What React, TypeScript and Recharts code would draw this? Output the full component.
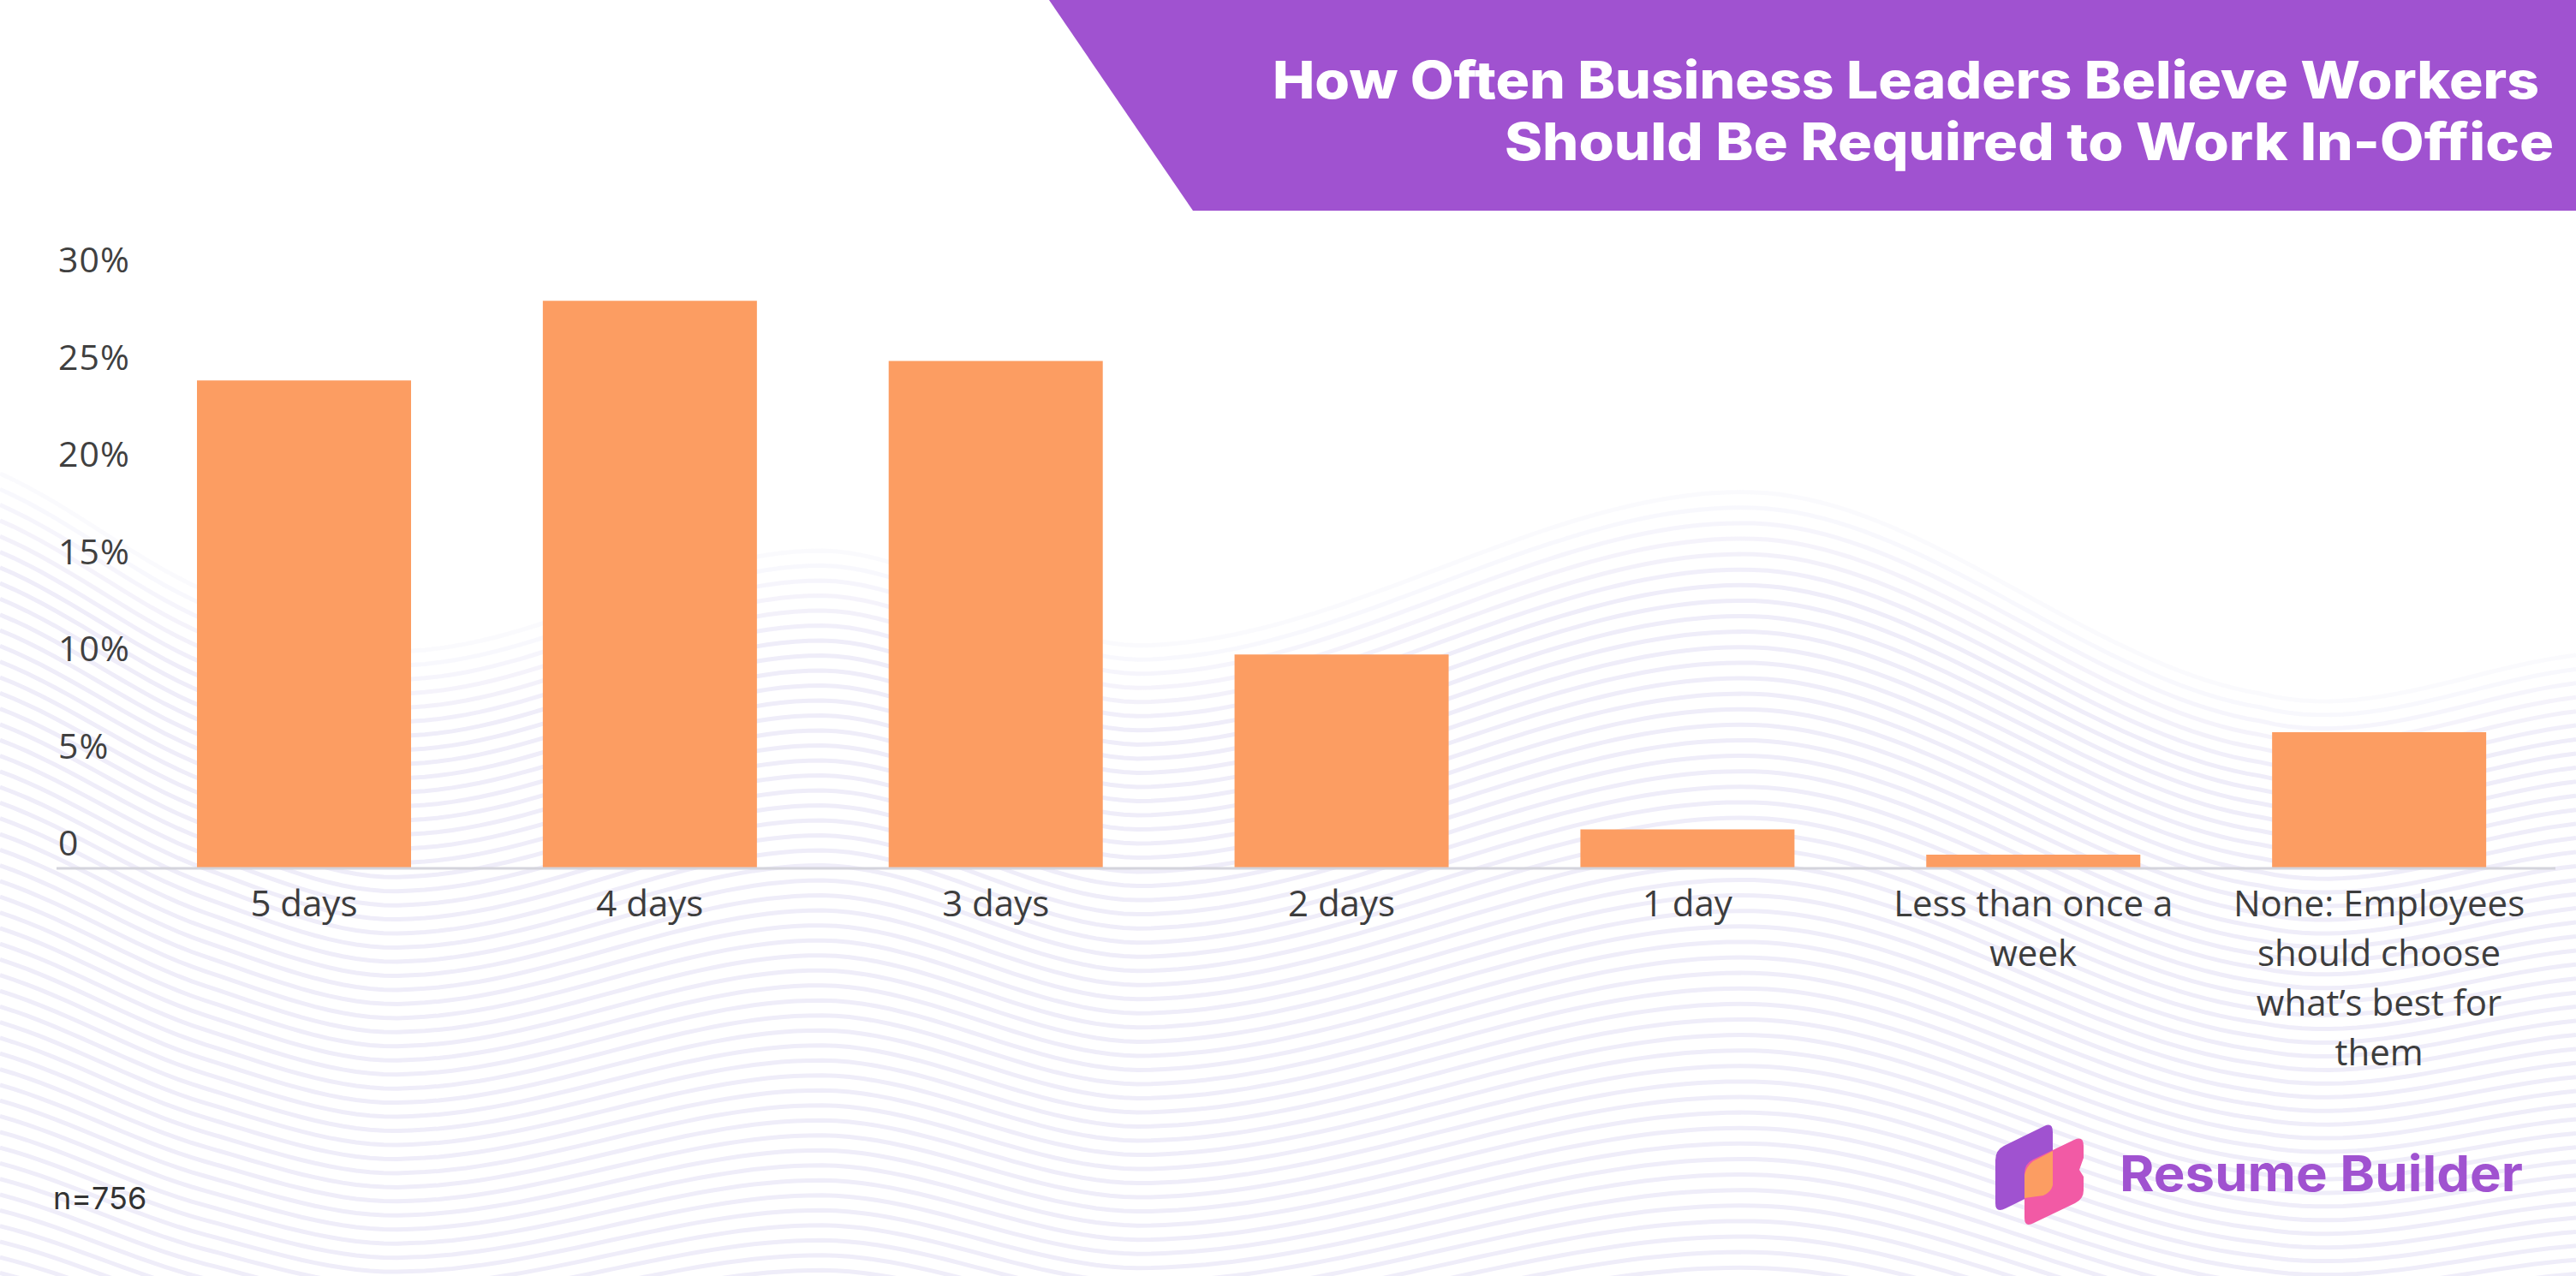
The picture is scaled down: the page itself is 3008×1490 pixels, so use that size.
import React from 'react';
import { BarChart, Bar, XAxis, YAxis } from 'recharts';

const categories = [
  '5 days',
  '4 days',
  '3 days',
  '2 days',
  '1 day',
  'Less than once a week',
  'None: Employees should choose what’s best for them',
];
const shares = [25.1, 29.2, 26.1, 11, 2, 0.7, 7];
const yTicks = [0, 5, 10, 15, 20, 25, 30];
const titleLines = ['How Often Business Leaders Believe Workers', 'Should Be Required to Work In-Office'];
const brandName = 'Resume Builder';
const sampleNote = 'n=756';

const rows = categories.map((category, i) => ({ category, share: shares[i] }));

const W = 3008;
const H = 1490;
const LABEL_FONT = "42px 'Open Sans'";

let ctx: CanvasRenderingContext2D | null = null;
function measure(t: string): number {
  if (!ctx && typeof document !== 'undefined') {
    ctx = document.createElement('canvas').getContext('2d');
  }
  if (!ctx) return t.length * 22;
  ctx.font = LABEL_FONT;
  return ctx.measureText(t).width;
}
function wrap(text: string, maxW: number): string[] {
  const words = text.split(' ');
  const lines: string[] = [];
  let cur = '';
  for (const w of words) {
    const cand = cur ? cur + ' ' + w : w;
    if (cur && measure(cand) > maxW) {
      lines.push(cur);
      cur = w;
    } else cur = cand;
  }
  if (cur) lines.push(cur);
  return lines;
}

const XTick = (props: any) => {
  const { x, y, payload } = props;
  const lines = wrap(String(payload.value), 350);
  return (
    <g>
      {lines.map((l, i) => (
        <text
          key={i}
          x={x}
          y={y + 56 + i * 58}
          textAnchor="middle"
          fontFamily="'Open Sans', sans-serif"
          fontSize={42}
          fill="#3d3d3d"
        >
          {l}
        </text>
      ))}
    </g>
  );
};

const YTick = (props: any) => {
  const { y, payload } = props;
  const v = payload.value;
  return (
    <text
      x={68}
      y={y - 15}
      textAnchor="start"
      fontFamily="'Open Sans', sans-serif"
      fontSize={41}
      letterSpacing={1}
      fill="#404040"
    >
      {v === 0 ? '0' : `${v}%`}
    </text>
  );
};

// decorative wave background
const waveCtrl: [number, number][] = [
  [-200, 480],
  [0, 553],
  [240, 690],
  [480, 760],
  [955, 643],
  [1350, 753],
  [2052, 575],
  [2640, 810],
  [3008, 765],
  [3300, 720],
];
function topCurve(x: number): number {
  let k = 0;
  while (k < waveCtrl.length - 2 && waveCtrl[k + 1][0] < x) k++;
  const p0 = waveCtrl[Math.max(k - 1, 0)];
  const p1 = waveCtrl[k];
  const p2 = waveCtrl[k + 1];
  const p3 = waveCtrl[Math.min(k + 2, waveCtrl.length - 1)];
  const t = (x - p1[0]) / (p2[0] - p1[0]);
  const t2 = t * t;
  const t3 = t2 * t;
  return (
    0.5 *
    (2 * p1[1] +
      (-p0[1] + p2[1]) * t +
      (2 * p0[1] - 5 * p1[1] + 4 * p2[1] - p3[1]) * t2 +
      (-p0[1] + 3 * p1[1] - 3 * p2[1] + p3[1]) * t3)
  );
}

const Waves = () => {
  const paths: React.ReactNode[] = [];
  const N = 62;
  const mean = 700;
  for (let i = 0; i < N; i++) {
    const a = 1 - 0.55 * (i / N);
    let d = '';
    for (let x = 0; x <= W; x += 16) {
      const y = mean + (topCurve(x) - mean) * a + i * 17;
      d += (x === 0 ? 'M' : 'L') + x + ',' + y.toFixed(1);
    }
    const op = i < 6 ? 0.3 + (i / 6) * 0.7 : 1;
    paths.push(<path key={i} d={d} fill="none" stroke="#efedf9" strokeWidth={5} opacity={op} />);
  }
  return (
    <svg width={W} height={H} style={{ position: 'absolute', left: 0, top: 0 }}>
      <rect width={W} height={H} fill="#ffffff" />
      {paths}
    </svg>
  );
};

const Decor = () => (
  <svg width={W} height={H} style={{ position: 'absolute', left: 0, top: 0 }}>
    <polygon points="1225,0 3008,0 3008,246 1393,246" fill="#A052D0" />
    <text
      x={1486}
      y={115}
      textLength={1479}
      lengthAdjust="spacingAndGlyphs"
      fontFamily="Inter, sans-serif"
      fontWeight={800}
      fontSize={60}
      fill="#ffffff"
    >
      {titleLines[0]}
    </text>
    <text
      x={1757}
      y={187}
      textLength={1225}
      lengthAdjust="spacingAndGlyphs"
      fontFamily="Inter, sans-serif"
      fontWeight={800}
      fontSize={60}
      fill="#ffffff"
    >
      {titleLines[1]}
    </text>
    <text x={62} y={1412} fontFamily="Inter, sans-serif" fontSize={36} fill="#333333">
      {sampleNote}
    </text>
    {/* logo */}
    <path
      d="M2330,1355 Q2330,1343 2340,1338 L2387,1315 Q2397,1310 2397,1322 L2397,1384 L2342,1411 Q2330,1417 2330,1405 Z"
      fill="#A052D0"
    />
    <path
      d="M2364,1370 Q2364,1359 2374,1354 L2422,1331 Q2433,1326 2433,1338 L2433,1352 L2428,1366 L2433,1374 L2433,1390 Q2433,1400 2423,1405 L2375,1428 Q2364,1434 2364,1422 Z"
      fill="#F25AA5"
    />
    <path d="M2364,1372 Q2366,1362 2374,1356 L2397,1344 L2397,1384 Q2395,1392 2386,1396 L2364,1399 Z" fill="#FC9D62" />
    <text
      x={2475}
      y={1391}
      textLength={471}
      lengthAdjust="spacingAndGlyphs"
      fontFamily="Inter, sans-serif"
      fontWeight={700}
      fontSize={58}
      fill="#A052D0"
    >
      {brandName}
    </text>
  </svg>
);

export default function App() {
  return (
    <div style={{ position: 'absolute', left: 0, top: 0, width: W, height: H, overflow: 'hidden', background: '#fff' }}>
      <Waves />
      <Decor />
      <div style={{ position: 'absolute', left: 0, top: 0 }}>
        <BarChart width={W} height={H} data={rows} margin={{ top: 333, right: 24, bottom: 446, left: 36 }}>
          <XAxis
            dataKey="category"
            height={30}
            padding={{ left: 87, right: 4 }}
            axisLine={{ stroke: '#d4d4dc', strokeWidth: 3 }}
            tickLine={false}
            tickSize={0}
            tickMargin={0}
            interval={0}
            tick={(p: any) => <XTick {...p} />}
          />
          <YAxis
            width={30}
            domain={[0, 30]}
            ticks={yTicks}
            axisLine={false}
            tickLine={false}
            interval={0}
            tick={(p: any) => <YTick {...p} />}
          />
          <Bar dataKey="share" fill="#FC9D62" barSize={250} isAnimationActive={false} />
        </BarChart>
      </div>
    </div>
  );
}
